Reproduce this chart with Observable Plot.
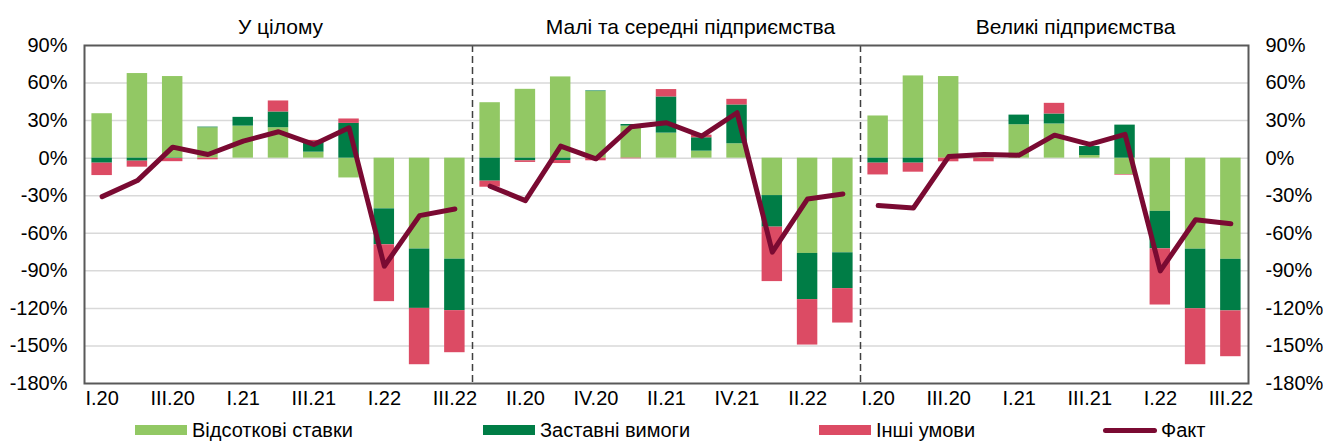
<!DOCTYPE html>
<html>
<head>
<meta charset="utf-8">
<script src="https://cdn.jsdelivr.net/npm/d3@7"></script>
<script src="https://cdn.jsdelivr.net/npm/@observablehq/plot@0.6"></script>
<style>
  html, body { margin: 0; padding: 0; background: #fff; }
  body { width: 1323px; height: 444px; position: relative; overflow: hidden; font-family: "Liberation Sans", Arial, sans-serif; color: #000; }
  #topline { position: absolute; left: 3px; right: 0; top: 4px; height: 3px; background: #92c864; }
  #chart { position: absolute; left: 0; top: 0; }
  #legend { position: absolute; left: 0; top: 416px; width: 1323px; height: 28px; }
  .item { position: absolute; top: 0; height: 28px; display: flex; align-items: center; font-size: 20px; }
  .sw { width: 52px; height: 10px; margin-right: 5px; }
  .ln { width: 54px; height: 5px; border-radius: 3px; margin-right: 4px; }
</style>
</head>
<body>
<div id="topline"></div>
<div id="chart"></div>
<div id="legend"></div>
<script>
const quarters = ["I.20","II.20","III.20","IV.20","I.21","II.21","III.21","IV.21","I.22","II.22","III.22"];
const panels = ["У цілому", "Малі та середні підприємства", "Великі підприємства"];
const seriesNames = ["Відсоткові ставки", "Заставні вимоги", "Інші умови"];
const lineName = "Факт";
const colors = ["#92c864", "#007d46", "#dc4b64"];
const lineColor = "#7a0a32";

// Відсоткові ставки, per panel
const rates = [
  [35.5, 67.6, 65.2, 24.3, 25.6, 24.3, 4.8, -15.8, -40.5, -72.6, -80.7],
  [44.3, 55.0, 64.9, 53.2, 25.6, 20.0, 5.6, 11.5, -29.9, -76.1, -75.6],
  [33.7, 65.7, 65.2, 0.5, 26.7, 27.3, 2.1, -13.1, -42.5, -72.7, -80.8]
];
// Заставні вимоги
const collateral = [
  [-4.0, -2.4, -0.3, 0.5, 7.0, 12.6, 8.3, 27.8, -28.7, -47.4, -41.1],
  [-18.4, -2.1, -1.9, 0.5, 1.3, 28.9, 10.7, 31.0, -25.2, -36.9, -28.6],
  [-4.0, -4.0, 0, 0, 7.7, 8.0, 7.2, 26.4, -29.9, -47.6, -41.2]
];
// Інші умови
const other = [
  [-9.9, -4.8, -2.5, -1.3, 0, 8.8, 1.1, 3.5, -45.4, -45.0, -33.6],
  [-4.8, -1.3, -2.4, -2.1, -0.5, 5.9, 2.1, 4.5, -43.5, -36.3, -27.5],
  [-9.4, -7.2, -2.9, -2.9, 0, 8.5, 0, -0.5, -44.9, -44.7, -36.6]
];
// Факт
const fact = [
  [-30.7, -17.9, 8.8, 2.9, 13.6, 21.1, 11.0, 24.3, -86.3, -45.9, -40.6],
  [-22.4, -33.9, 9.6, -0.5, 25.1, 28.3, 17.6, 36.3, -75.1, -32.6, -28.6],
  [-37.9, -39.8, 1.3, 2.9, 2.4, 18.4, 11.0, 19.0, -90.0, -49.2, -52.4]
];
const yTicks = [-180, -150, -120, -90, -60, -30, 0, 30, 60, 90];

const keys = panels.flatMap((p) => quarters.map((q) => p + "|" + q));
const seriesData = [rates, collateral, other];
const bars = [];
seriesNames.forEach((s, si) => {
  panels.forEach((p, pi) => {
    quarters.forEach((q, qi) => {
      bars.push({key: p + "|" + q, series: s, value: seriesData[si][pi][qi]});
    });
  });
});
const lineRows = panels.flatMap((p, pi) => quarters.map((q, qi) => ({key: p + "|" + q, panel: p, value: fact[pi][qi]})));

const W = 1323, H = 416, mL = 84, mR = 75, mT = 45, mB = 33;
const step = (W - mL - mR) / keys.length;
const fontSize = 20;

const plot = Plot.plot({
  width: W, height: H,
  marginLeft: mL, marginRight: mR, marginTop: mT, marginBottom: mB,
  style: {fontFamily: '"Liberation Sans", Arial, sans-serif', color: "#000", background: "#fff", overflow: "visible"},
  x: {type: "band", domain: keys, paddingInner: 0.42, paddingOuter: 0.21, round: false, axis: null},
  y: {domain: [-180, 90], axis: null},
  color: {domain: seriesNames, range: colors},
  marks: [
    Plot.gridY(yTicks.filter(d => d > -180 && d < 90), {stroke: "#d9d9d9", strokeOpacity: 1, strokeWidth: 1.5}),
    Plot.barY(bars, {x: "key", y: "value", fill: "series"}),
    Plot.line(lineRows, {x: "key", y: "value", z: "panel", stroke: lineColor, strokeWidth: 5, strokeLinejoin: "round", strokeLinecap: "round"}),
    Plot.ruleX([keys[10], keys[21]], {dx: step / 2, stroke: "#404040", strokeWidth: 1.5, strokeDasharray: "7,4"}),
    Plot.frame({stroke: "#595959", strokeWidth: 2}),
    Plot.axisY({ticks: yTicks, tickSize: 0, tickPadding: 17, tickFormat: d => d + "%", fontSize, label: null}),
    Plot.axisY({anchor: "right", ticks: yTicks, tickSize: 0, tickPadding: 17, tickFormat: d => d + "%", fontSize, label: null}),
    Plot.axisX({ticks: keys.filter((d, i) => i % 2 === 0), tickSize: 0, tickPadding: 7, tickFormat: d => d.split("|")[1], fontSize, label: null}),
    Plot.text([panels[0]], {x: () => keys[5], frameAnchor: "top", dy: -26, dx: 2, fontSize: 21, fill: "#000"}),
    Plot.text([panels[1]], {x: () => keys[16], frameAnchor: "top", dy: -26, dx: 24, fontSize: 21, fill: "#000"}),
    Plot.text([panels[2]], {x: () => keys[27], frameAnchor: "top", dy: -26, dx: 21, fontSize: 21, fill: "#000"})
  ]
});
document.getElementById("chart").appendChild(plot);

const legend = document.getElementById("legend");
const legendX = [135, 483, 819, 1103];
seriesNames.forEach((s, i) => {
  const it = document.createElement("div");
  it.className = "item";
  it.style.left = legendX[i] + "px";
  it.innerHTML = `<span class="sw" style="background:${colors[i]}"></span><span>${s}</span>`;
  legend.appendChild(it);
});
{
  const it = document.createElement("div");
  it.className = "item";
  it.style.left = legendX[3] + "px";
  it.innerHTML = `<span class="ln" style="background:${lineColor}"></span><span>${lineName}</span>`;
  legend.appendChild(it);
}
</script>
</body>
</html>
